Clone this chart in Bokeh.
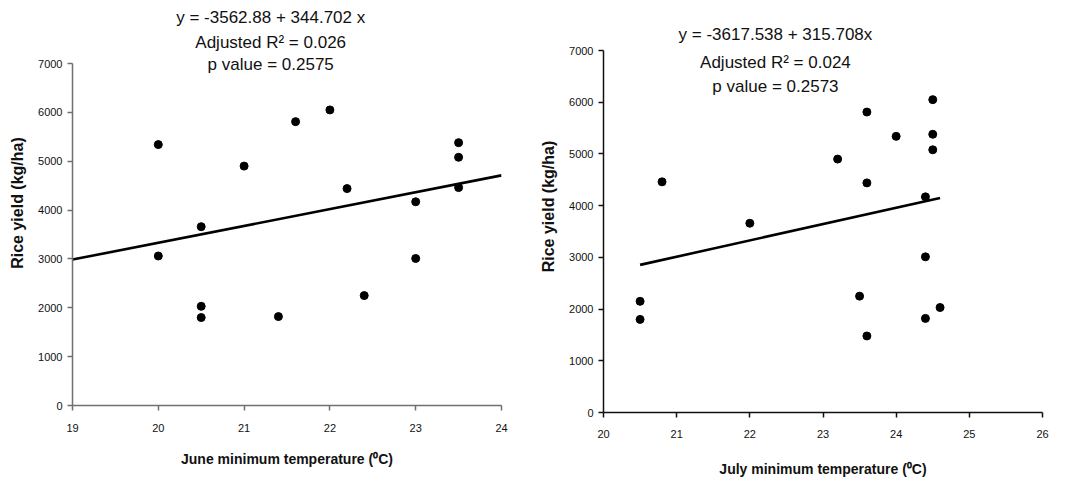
from bokeh.plotting import figure
from bokeh.layouts import row, column
from bokeh.models import Label, SingleIntervalTicker, Range1d
from bokeh.embed import file_html
from bokeh.resources import INLINE

# ---- data: June ----
june_temp = [20.0, 20.5, 21.0, 21.6, 22.0, 22.2, 23.0, 23.5, 23.5, 23.5,
             20.0, 20.5, 20.5, 21.4, 22.4, 23.0]
june_yield = [5340, 3660, 4900, 5810, 6050, 4440, 4170, 5380, 5080, 4460,
              3060, 2030, 1800, 1820, 2250, 3010]
june_intercept = -3562.88
june_slope = 344.702
june_line_x = [19, 24]
june_title = ["y = -3562.88 + 344.702 x", "Adjusted R\u00b2 = 0.026", "p value = 0.2575"]

# ---- data: July ----
july_temp = [20.8, 22.0, 23.2, 23.6, 23.6, 24.0, 24.5, 24.5, 24.5, 24.4,
             20.5, 20.5, 23.5, 23.6, 24.4, 24.6, 24.4]
july_yield = [4460, 3660, 4900, 5810, 4440, 5340, 6050, 5380, 5080, 4170,
              2150, 1800, 2250, 1480, 3010, 2030, 1820]
july_intercept = -3617.538
july_slope = 315.708
july_line_x = [20.5, 24.6]
july_title = ["y = -3617.538 + 315.708x", "Adjusted R\u00b2 = 0.024", "p value = 0.2573"]

y_axis_max = 7000
FONT = "Liberation Sans"
H = 480


def make_plot(xs, ys, b0, b1, line_x, title_lines, xlabel, xr, width, borders,
              top_px, axis_color, title_x, title_px, x_tick_standoff, x_label_standoff):
    left, right, bottom = borders
    frame_h = H - bottom
    per_px = y_axis_max / (frame_h - top_px)
    y_top = frame_h * per_px
    p = figure(width=width, height=H, output_backend="svg", toolbar_location=None,
               x_range=Range1d(*xr), y_range=Range1d(0, y_top),
               min_border_left=left, min_border_right=right,
               min_border_top=0, min_border_bottom=bottom)
    p.outline_line_color = None
    p.grid.visible = False
    p.background_fill_color = "white"
    p.border_fill_color = "white"

    p.xaxis.ticker = SingleIntervalTicker(interval=1)
    p.yaxis.ticker = SingleIntervalTicker(interval=1000)
    p.yaxis.bounds = (0, y_axis_max)
    for ax in (p.xaxis[0], p.yaxis[0]):
        ax.axis_line_color = axis_color
        ax.axis_line_width = 1.5
        ax.major_tick_line_color = axis_color
        ax.major_tick_line_width = 1.5
        ax.minor_tick_line_color = None
        ax.major_tick_in = 0
        ax.major_tick_out = 5
        ax.major_label_text_font = FONT
        ax.major_label_text_font_size = "11px"
        ax.major_label_text_color = "#111111"
        ax.axis_label_text_font = FONT
        ax.axis_label_text_font_style = "bold"
        ax.axis_label_text_color = "#111111"
    p.xaxis.major_label_standoff = x_tick_standoff
    p.xaxis.axis_label = xlabel
    p.xaxis.axis_label_text_font_size = "14px"
    p.xaxis.axis_label_standoff = x_label_standoff
    p.yaxis.major_label_standoff = 5
    p.yaxis.axis_label = "Rice yield (kg/ha)"
    p.yaxis.axis_label_text_font_size = "16px"
    p.yaxis.axis_label_standoff = 9

    ly = [b0 + b1 * x for x in line_x]
    p.line(line_x, ly, line_color="black", line_width=2.6)
    p.scatter(xs, ys, size=8, color="black")

    for text, tp in zip(title_lines, title_px):
        p.add_layout(Label(x=title_x, y=(frame_h - tp) * per_px, text=text,
                           text_align="center", text_baseline="middle",
                           text_font=FONT, text_font_size="17px",
                           text_color="#111111"))
    return p


p1 = make_plot(june_temp, june_yield, june_intercept, june_slope, june_line_x,
               june_title, "June minimum temperature (\u2070C)", (19, 24), 530,
               (72, 29, 75), 63, "#707070", 21.31, [17, 42, 64], 13, 16)
p2 = make_plot(july_temp, july_yield, july_intercept, july_slope, july_line_x,
               july_title, "July minimum temperature (\u2070C)", (20, 26), 536,
               (73, 24, 68), 50, "#111111", 22.35, [34, 62, 86], 12, 20)

layout = row(column(p1), column(p2))
open("out.html", "w").write(file_html(layout, INLINE))
